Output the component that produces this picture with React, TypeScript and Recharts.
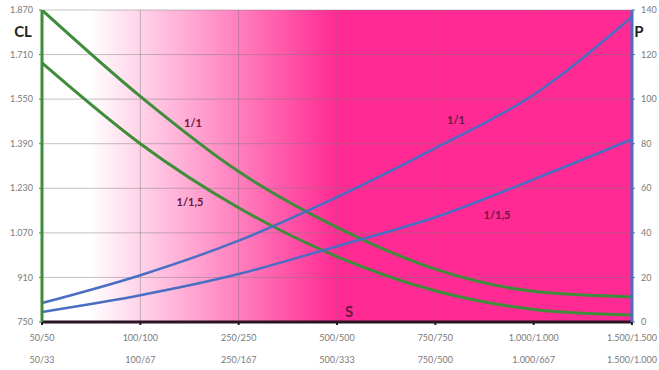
import { LineChart, Line, XAxis, YAxis, CartesianGrid } from 'recharts';

// spacing categories (two naming rows under the axis)
const spacings = ['50/50', '100/100', '250/250', '500/500', '750/750', '1.000/1.000', '1.500/1.500'];
const spacingsAlt = ['50/33', '100/67', '250/167', '500/333', '750/500', '1.000/667', '1.500/1.000'];

// CL curves (left axis)
const cl1 = [1870, 1560, 1290, 1090, 940, 860, 840];
const cl15 = [1680, 1390, 1160, 985, 862, 795, 775];

// P curves (right axis)
const p1 = [8.5, 21, 36.5, 56, 78, 102, 137];
const p15 = [4.5, 12, 21.5, 34, 47, 64, 82];

const clTicks = [750, 910, 1070, 1230, 1390, 1550, 1710, 1870];
const pTicks = [0, 20, 40, 60, 80, 100, 120, 140];

const data = spacings.map((s, i) => ({
  s,
  cl1: cl1[i],
  cl15: cl15[i],
  p1: p1[i],
  p15: p15[i],
}));

const GREEN = '#3f8d3a';
const BLUE = '#4a6fc2';
const PINK = '#ff2a93';
const LABEL = '#6a1840';
const TICK_FONT = { fontSize: 9, fill: '#7a7a7a', fontFamily: 'Lato, sans-serif' };

const fmt = (v: number) =>
  v >= 1000 ? `${Math.floor(v / 1000)}.${String(v % 1000).padStart(3, '0')}` : String(v);

const SpacingTick = (props: any) => {
  const { x, y, payload } = props;
  return (
    <g>
      <text x={x} y={y + 14} textAnchor="middle" {...TICK_FONT}>
        {payload.value}
      </text>
      <text x={x} y={y + 36} textAnchor="middle" {...TICK_FONT}>
        {spacingsAlt[payload.index]}
      </text>
    </g>
  );
};

const seriesLabel = { fill: LABEL, fontSize: 11, fontWeight: 700, fontFamily: 'Lato, sans-serif' };
const axisTitle = { fill: '#222', fontSize: 15, fontWeight: 700, fontFamily: 'Lato, sans-serif' };

export default function App() {
  return (
    <div style={{ width: 659, height: 370, background: '#fff' }}>
      <style>{'body{margin:0}'}</style>
      <LineChart width={659} height={370} data={data} margin={{ top: 10, right: 0, bottom: 0, left: 0 }}>
        <defs>
          <linearGradient id="bg" x1="0" y1="0" x2="1" y2="0">
            <stop offset="0%" stopColor="#ffffff" />
            <stop offset="8%" stopColor="#ffffff" />
            <stop offset="50%" stopColor={PINK} />
            <stop offset="100%" stopColor={PINK} />
          </linearGradient>
        </defs>
        <CartesianGrid
          yAxisId="cl"
          fill="url(#bg)"
          fillOpacity={1}
          stroke="#7a7a7a"
          strokeOpacity={0.45}
          horizontalValues={clTicks}
        />
        <XAxis
          dataKey="s"
          scale="point"
          padding={{ left: 0, right: 0 }}
          height={48}
          interval={0}
          axisLine={{ stroke: '#2a1424', strokeWidth: 3 }}
          tickLine={{ stroke: '#2a1424', strokeWidth: 2 }}
          tickSize={3}
          tick={<SpacingTick />}
        />
        <YAxis
          yAxisId="cl"
          orientation="left"
          width={42}
          domain={[750, 1870]}
          ticks={clTicks}
          tickFormatter={fmt}
          axisLine={{ stroke: GREEN, strokeWidth: 3 }}
          tickLine={{ stroke: GREEN }}
          tickSize={3}
          tickMargin={6}
          tick={TICK_FONT}
          allowDataOverflow
        />
        <YAxis
          yAxisId="p"
          orientation="right"
          width={27}
          domain={[0, 140]}
          ticks={pTicks}
          axisLine={{ stroke: BLUE, strokeWidth: 3 }}
          tickLine={{ stroke: BLUE }}
          tickSize={3}
          tickMargin={6}
          tick={{ ...TICK_FONT, textAnchor: 'start' }}
          allowDataOverflow
        />
        <Line yAxisId="cl" type="monotone" dataKey="cl1" stroke={GREEN} strokeWidth={3} dot={false} isAnimationActive={false} />
        <Line yAxisId="cl" type="monotone" dataKey="cl15" stroke={GREEN} strokeWidth={3} dot={false} isAnimationActive={false} />
        <Line yAxisId="p" type="monotone" dataKey="p1" stroke={BLUE} strokeWidth={2.5} dot={false} isAnimationActive={false} />
        <Line yAxisId="p" type="monotone" dataKey="p15" stroke={BLUE} strokeWidth={2.5} dot={false} isAnimationActive={false} />
        <text x={23} y={37} textAnchor="middle" {...axisTitle}>CL</text>
        <text x={639} y={37} textAnchor="middle" {...axisTitle}>P</text>
        <text x={349} y={317} textAnchor="middle" {...axisTitle} fill={LABEL}>S</text>
        <text x={193} y={127} textAnchor="middle" {...seriesLabel}>1/1</text>
        <text x={190} y={206} textAnchor="middle" {...seriesLabel}>1/1,5</text>
        <text x={456} y={124} textAnchor="middle" {...seriesLabel}>1/1</text>
        <text x={497} y={219} textAnchor="middle" {...seriesLabel}>1/1,5</text>
      </LineChart>
    </div>
  );
}
